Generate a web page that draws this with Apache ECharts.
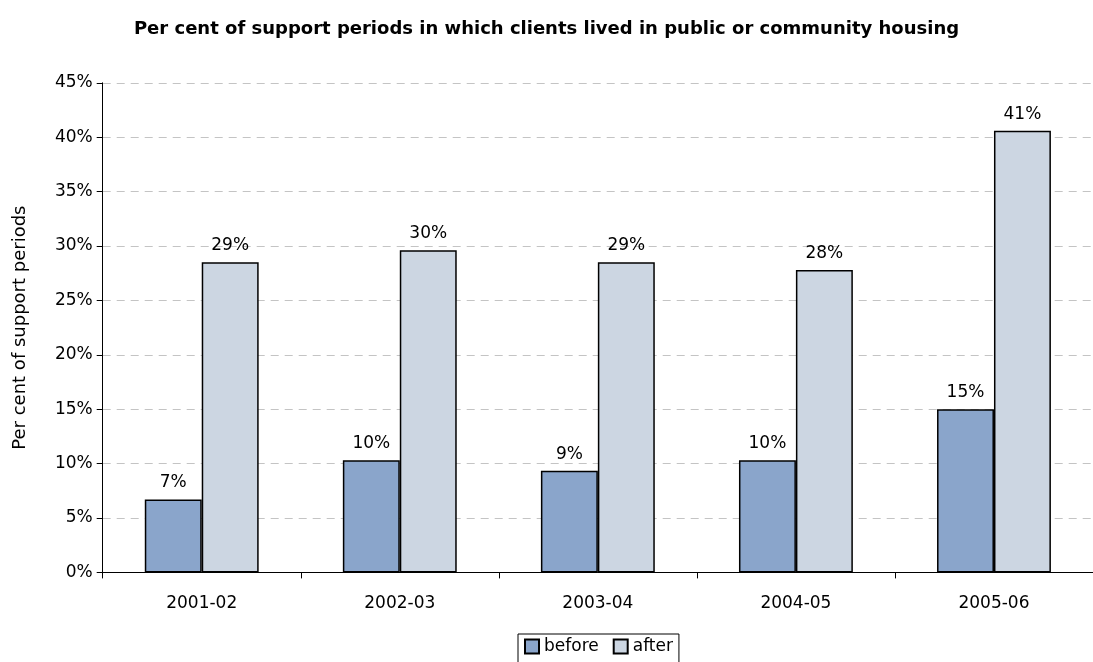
<!DOCTYPE html>
<html>
<head>
<meta charset="utf-8">
<script src="https://cdn.jsdelivr.net/npm/echarts@6/dist/echarts.min.js"></script>
<style>
  html, body { margin: 0; padding: 0; background: #fff; }
  #chart { width: 1093px; height: 662px; }
</style>
</head>
<body>
<div id="chart"></div>
<script>
// Reporting years on the category axis
const years = ['2001-02', '2002-03', '2003-04', '2004-05', '2005-06'];
// Share of support periods (%) in public or community housing
const before = [6.7, 10.3, 9.35, 10.3, 15.0];
const after = [28.5, 29.6, 28.5, 27.8, 40.6];
// Value axis range
const yMin = 0, yMax = 45, yStep = 5;

const FONT = 'DejaVu Sans, Liberation Sans, Arial, sans-serif';
const labelFmt = p => Math.round(p.value) + '%';

const chart = echarts.init(document.getElementById('chart'), null, { renderer: 'canvas' });
chart.setOption({
  animation: false,
  backgroundColor: '#fff',
  title: {
    text: 'Per cent of support periods in which clients lived in public or community housing',
    left: 'center',
    top: 15,
    textStyle: { fontFamily: FONT, fontSize: 18, fontWeight: 'bold', color: '#000' }
  },
  legend: {
    data: ['before', 'after'],
    icon: 'rect',
    left: 518,
    top: 634,
    itemWidth: 14,
    itemHeight: 14,
    itemGap: 14,
    padding: [4, 6, 10, 6],
    borderColor: '#000',
    borderWidth: 1,
    textStyle: { fontFamily: FONT, fontSize: 17, color: '#000' }
  },
  grid: { left: 102.7, top: 82.8, width: 997.5, height: 489.6 },
  xAxis: {
    type: 'category',
    data: years,
    axisLine: { lineStyle: { color: '#000', width: 1 } },
    axisTick: { show: true, length: 6, lineStyle: { color: '#000' } },
    axisLabel: { fontFamily: FONT, fontSize: 17, color: '#000', margin: 23 }
  },
  yAxis: {
    type: 'value',
    min: yMin,
    max: yMax,
    interval: yStep,
    name: 'Per cent of support periods',
    nameLocation: 'middle',
    nameGap: 73,
    nameTextStyle: { fontFamily: FONT, fontSize: 18, color: '#000' },
    axisLine: { show: true, lineStyle: { color: '#000', width: 1 } },
    axisTick: { show: true, length: 6, lineStyle: { color: '#000' } },
    axisLabel: { fontFamily: FONT, fontSize: 17, color: '#000', margin: 10, formatter: '{value}%' },
    splitLine: { show: true, lineStyle: { color: '#c4c4c4', type: [8, 6], width: 1 } }
  },
  series: [
    {
      name: 'before',
      type: 'bar',
      data: before,
      barGap: '0%',
      barCategoryGap: '42.5%',
      itemStyle: { color: '#8AA5CB', borderColor: '#000', borderWidth: 1.5 },
      label: { show: true, position: 'top', distance: 8, formatter: labelFmt,
               fontFamily: FONT, fontSize: 17, color: '#000' }
    },
    {
      name: 'after',
      type: 'bar',
      data: after,
      barGap: '0%',
      barCategoryGap: '42.5%',
      itemStyle: { color: '#CCD6E2', borderColor: '#000', borderWidth: 1.5 },
      label: { show: true, position: 'top', distance: 8, formatter: labelFmt,
               fontFamily: FONT, fontSize: 17, color: '#000' }
    }
  ]
});
</script>
</body>
</html>
